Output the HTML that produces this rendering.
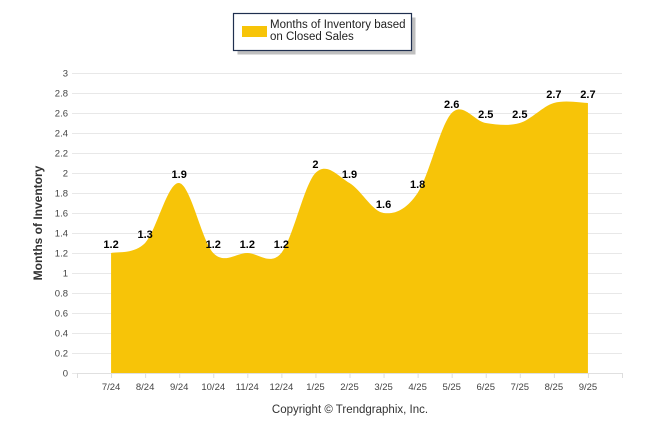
<!DOCTYPE html>
<html><head><meta charset="utf-8"><style>
body{margin:0;background:#fff;width:646px;height:434px;overflow:hidden;font-family:"Liberation Sans",sans-serif}
</style></head><body>
<svg id="c" width="646" height="434" style="position:absolute;left:0;top:0">
<g>
<rect x="235.5" y="15.5" width="178" height="37" fill="#000" opacity="0.25" transform="translate(2,2)"/>
<rect x="233.5" y="13.5" width="178" height="37" fill="#fff" stroke="#1f2f4f" stroke-width="1.2"/>
<rect x="242" y="26" width="25" height="11" fill="#f7c408"/>
<text x="270" y="28" font-size="11.5" fill="#222">Months of Inventory based</text>
<text x="270" y="40" font-size="11.5" fill="#222">on Closed Sales</text>
</g>
<text transform="translate(42,223) rotate(-90)" text-anchor="middle" font-size="12" font-weight="bold" fill="#333">Months of Inventory</text>
<text x="350" y="413" text-anchor="middle" font-size="11.5" fill="#333">Copyright © Trendgraphix, Inc.</text>
<g id="grid"></g><g id="area"></g><g id="labels"></g>
</svg>
<script>
const categories=["7/24","8/24","9/24","10/24","11/24","12/24","1/25","2/25","3/25","4/25","5/25","6/25","7/25","8/25","9/25"];
const values=[1.2,1.3,1.9,1.2,1.2,1.2,2,1.9,1.6,1.8,2.6,2.5,2.5,2.7,2.7];
const yTicks=[0,0.2,0.4,0.6,0.8,1,1.2,1.4,1.6,1.8,2,2.2,2.4,2.6,2.8,3];
const NS="http://www.w3.org/2000/svg";
const X0=77,X1=622,Y0=373,Y1=73;
const step=(X1-X0)/(categories.length+1);
const xs=i=>X0+step*(i+1);
const ys=v=>Y0-(v/3)*(Y0-Y1);
function mk(t,a,p){const e=document.createElementNS(NS,t);for(const k in a)e.setAttribute(k,a[k]);p.appendChild(e);return e;}
const grid=document.getElementById('grid');
yTicks.forEach(v=>{
 const l=mk('line',{x1:72,x2:622,y1:ys(v)+0.5,y2:ys(v)+0.5,stroke:'#e8e8e8'},grid);
 
 
 const t=mk('text',{x:68,y:ys(v)+3.5,'text-anchor':'end','font-size':9.5,fill:'#444'},grid);
 t.textContent=v;
 
 
});
mk('line',{x1:X0,x2:X1,y1:Y0+0.5,y2:Y0+0.5,stroke:'#e0e0e0'},grid);
for(let i=0;i<=categories.length+1;i++){mk('line',{x1:X0+step*i+0.5,x2:X0+step*i+0.5,y1:Y0,y2:Y0+5,stroke:'#ddd'},grid);}
categories.forEach((c,i)=>{
 const t=mk('text',{x:xs(i),y:Y0+17,'text-anchor':'middle','font-size':9.5,fill:'#444'},grid);
 t.textContent=c;
 
 
});
const pts=values.map((v,i)=>[xs(i),ys(v)]);
const n=pts.length;
const P=i=>pts[Math.max(0,Math.min(n-1,i))];
let d=`M${pts[0][0]},${Y0} L${pts[0][0]},${pts[0][1]}`;
for(let i=0;i<n-1;i++){
 const a=P(i-1),b=P(i),c=P(i+1),e=P(i+2);
 const c1=[b[0]+(c[0]-a[0])/6,b[1]+(c[1]-a[1])/6];
 const c2=[c[0]-(e[0]-b[0])/6,c[1]-(e[1]-b[1])/6];
 d+=` C${c1[0]},${c1[1]} ${c2[0]},${c2[1]} ${c[0]},${c[1]}`;
}
d+=` L${pts[n-1][0]},${Y0} Z`;
const ar=mk('path',{d:d,fill:'#f7c408'},document.getElementById('area'));


const lb=document.getElementById('labels');
values.forEach((v,i)=>{
 const t=mk('text',{x:xs(i),y:ys(v)-5,'text-anchor':'middle','font-size':11,'font-weight':'bold',fill:'#000'},lb);
 t.textContent=v;
 
 
});
</script>
</body></html>
